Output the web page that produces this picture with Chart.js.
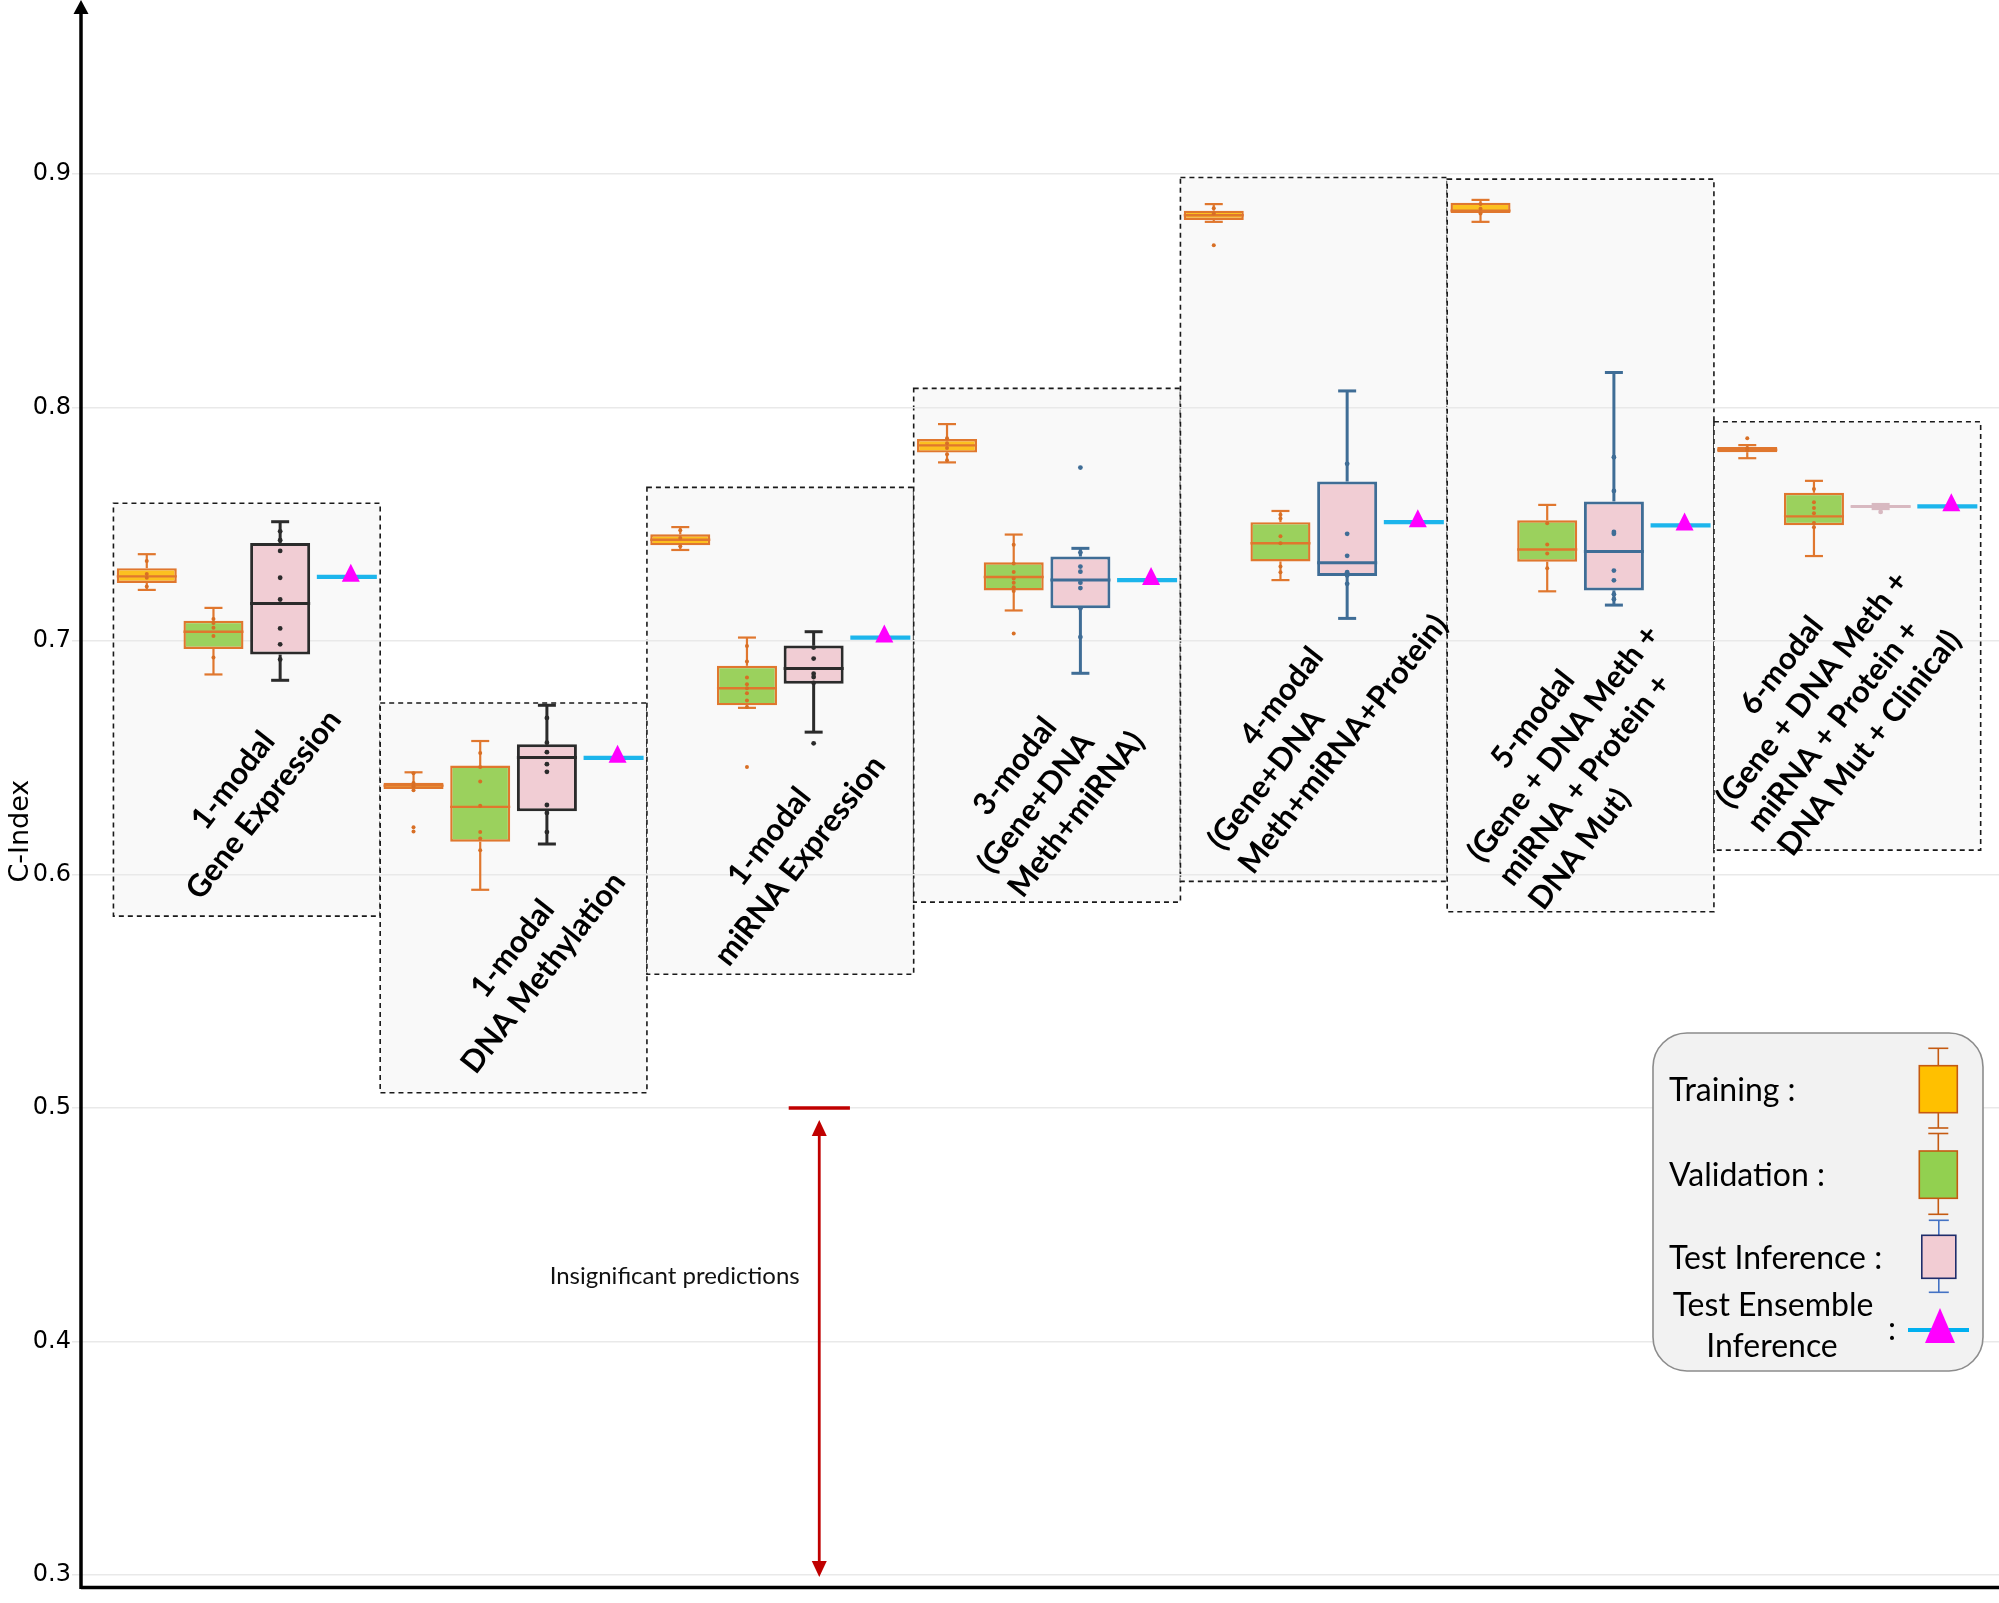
<!DOCTYPE html>
<html>
<head>
<meta charset="utf-8">
<script src="https://cdn.jsdelivr.net/npm/chart.js@4.4.1/dist/chart.umd.min.js"></script>
<style>
  html, body { margin: 0; padding: 0; background: #fff; overflow: hidden; }
  canvas { display: block; }
</style>
</head>
<body>
<canvas id="grafico" width="1999" height="1603"></canvas>
<script>
// grupos (uma caixa tracejada por modelo)
const groupNames = [
    ['1-modal', 'Gene Expression'],
    ['1-modal', 'DNA Methylation'],
    ['1-modal', 'miRNA Expression'],
    ['3-modal', '(Gene+DNA', 'Meth+miRNA)'],
    ['4-modal', '(Gene+DNA', 'Meth+miRNA+Protein)'],
    ['5-modal', '(Gene + DNA Meth +', 'miRNA + Protein +', 'DNA Mut)'],
    ['6-modal', '(Gene + DNA Meth +', 'miRNA + Protein +', 'DNA Mut + Clinical)'],
];

// [whisker baixo, Q1, mediana, Q3, whisker alto]
const trainingStats = [
    [0.7218, 0.7248, 0.7276, 0.7311, 0.7371],
    [0.6365, 0.6365, 0.6380, 0.6392, 0.6437],
    [0.7389, 0.7409, 0.7433, 0.7456, 0.7487],
    [0.7764, 0.7806, 0.7837, 0.7864, 0.7928],
    [0.8794, 0.8802, 0.8822, 0.8842, 0.8870],
    [0.8794, 0.8832, 0.8842, 0.8876, 0.8888],
    [0.7782, 0.7807, 0.7818, 0.7830, 0.7838],
];
const trainingPoints = [
    [0.7342, 0.7286, 0.7270, 0.7233],
    [0.6433, 0.6391, 0.6377, 0.6360, 0.6202, 0.6184],
    [0.7473, 0.7440, 0.7405],
    [0.7867, 0.7846, 0.7826, 0.7799, 0.7773],
    [0.8852, 0.8830, 0.8694],
    [0.8870, 0.8850, 0.8830],
    [0.7867, 0.7825, 0.7815],
];
const validationStats = [
    [0.6856, 0.6965, 0.7039, 0.7086, 0.7141],
    [0.5934, 0.6140, 0.6289, 0.6466, 0.6571],
    [0.6713, 0.6724, 0.6797, 0.6893, 0.7014],
    [0.7130, 0.7216, 0.7273, 0.7336, 0.7455],
    [0.7260, 0.7340, 0.7418, 0.7508, 0.7556],
    [0.7212, 0.7339, 0.7391, 0.7516, 0.7582],
    [0.7363, 0.7495, 0.7533, 0.7634, 0.7685],
];
const validationPoints = [
    [0.7093, 0.7076, 0.7056, 0.7021, 0.6929],
    [0.6520, 0.6460, 0.6398, 0.6294, 0.6181, 0.6154, 0.6103],
    [0.6978, 0.6911, 0.6843, 0.6814, 0.6797, 0.6775, 0.6745, 0.6717, 0.6460],
    [0.7411, 0.7331, 0.7295, 0.7267, 0.7249, 0.7229, 0.7213, 0.7031],
    [0.7540, 0.7524, 0.7448, 0.7418, 0.7318, 0.7294],
    [0.7503, 0.7412, 0.7374, 0.7311],
    [0.7650, 0.7593, 0.7569, 0.7546, 0.7505, 0.7486],
];
const testStats = [
    [0.6831, 0.6941, 0.7160, 0.7419, 0.7510],
    [0.6130, 0.6270, 0.6500, 0.6557, 0.6724],
    [0.6609, 0.6816, 0.6882, 0.6980, 0.7039],
    [0.6861, 0.7139, 0.7260, 0.7361, 0.7396],
    [0.7096, 0.7278, 0.7334, 0.7682, 0.8070],
    [0.7153, 0.7216, 0.7382, 0.7597, 0.8149],
    [0.7566, 0.7572, 0.7575, 0.7578, 0.7584],
];
const testPoints = [
    [0.7469, 0.7431, 0.7385, 0.7270, 0.7177, 0.7053, 0.6985, 0.6920],
    [0.6670, 0.6564, 0.6523, 0.6472, 0.6439, 0.6297, 0.6263, 0.6181],
    [0.6971, 0.6924, 0.6859, 0.6845, 0.6820, 0.6561],
    [0.7742, 0.7378, 0.7318, 0.7296, 0.7249, 0.7226, 0.7139, 0.7016],
    [0.7758, 0.7458, 0.7364, 0.7294, 0.7280, 0.7244],
    [0.7786, 0.7642, 0.7466, 0.7458, 0.7301, 0.7259, 0.7199, 0.7178],
    [0.7552],
];
const ensembleValues = [0.7274, 0.6499, 0.7014, 0.7260, 0.7508, 0.7494, 0.7576];

// limites das caixas tracejadas
const groupTop = [0.7589, 0.6734, 0.7657, 0.8081, 0.8984, 0.8977, 0.7938];
const groupBottom = [0.5821, 0.5065, 0.5572, 0.5881, 0.5970, 0.5840, 0.6104];

const yTicks = [0.3, 0.4, 0.5, 0.6, 0.7, 0.8, 0.9];
const insignificantLevel = 0.5;
const chanceLevel = 0.3;

// posicao dos textos (centro do bloco: [x do grupo, valor C-Index])
const labelPos = [[1.006, 0.635], [2.054, 0.563], [3.016, 0.611], [3.995, 0.636],
    [4.995, 0.666], [5.994, 0.651], [6.927, 0.674]];

const testStroke = ['#2b2b2b', '#2b2b2b', '#2b2b2b', '#3f6d96', '#3f6d96', '#3f6d96', '#d8b9c1'];
const orange = '#e0772e';
const ensembleHalf = 0.0009;

const toRad = (deg) => deg * Math.PI / 180;

const boxData = (stats) => stats.map((s, i) => ({ x: i + 1, y: [s[1], s[3]] }));

const linha = (ctx, x1, y1, x2, y2) => {
    ctx.beginPath();
    ctx.moveTo(x1, y1);
    ctx.lineTo(x2, y2);
    ctx.stroke();
};

const caixasSeries = [
    { stats: trainingStats, points: trainingPoints, stroke: () => orange, dot: '#d86f25', r: 2 },
    { stats: validationStats, points: validationPoints, stroke: () => orange, dot: '#d86f25', r: 2 },
    { stats: testStats, points: testPoints, stroke: (i) => testStroke[i], dot: null, r: 2.4 },
];

const desenhaGrupos = {
    id: 'grupos',
    beforeDraw(chart) {
        const { ctx, scales: { x, y } } = chart;
        ctx.save();
        groupTop.forEach((top, i) => {
            const left = x.getPixelForValue(i + 0.5);
            const right = x.getPixelForValue(i + 1.5);
            const t = y.getPixelForValue(top);
            const b = y.getPixelForValue(groupBottom[i]);
            ctx.fillStyle = '#f9f9f9';
            ctx.fillRect(left, t, right - left, b - t);
            ctx.setLineDash([5, 4]);
            ctx.lineWidth = 1.6;
            ctx.strokeStyle = '#1a1a1a';
            ctx.strokeRect(left, t, right - left, b - t);
        });
        ctx.restore();
    }
};

const desenhaCaixas = {
    id: 'caixas',
    beforeDatasetsDraw(chart) {
        // bigodes atras das caixas
        const { ctx, scales: { y } } = chart;
        ctx.save();
        caixasSeries.forEach((serie, d) => {
            chart.getDatasetMeta(d).data.forEach((bar, i) => {
                const [lo, q1, , q3, hi] = serie.stats[i];
                const cap = bar.width * 0.3;
                ctx.strokeStyle = serie.stroke(i);
                ctx.lineWidth = d === 2 ? 3 : 2.2;
                linha(ctx, bar.x, y.getPixelForValue(q3), bar.x, y.getPixelForValue(hi));
                linha(ctx, bar.x, y.getPixelForValue(q1), bar.x, y.getPixelForValue(lo));
                if (hi > q3) linha(ctx, bar.x - cap / 2, y.getPixelForValue(hi), bar.x + cap / 2, y.getPixelForValue(hi));
                if (lo < q1) linha(ctx, bar.x - cap / 2, y.getPixelForValue(lo), bar.x + cap / 2, y.getPixelForValue(lo));
            });
        });
        ctx.restore();
    },
    afterDatasetsDraw(chart) {
        const { ctx, scales: { y } } = chart;
        ctx.save();
        caixasSeries.forEach((serie, d) => {
            chart.getDatasetMeta(d).data.forEach((bar, i) => {
                const med = y.getPixelForValue(serie.stats[i][2]);
                ctx.strokeStyle = serie.stroke(i);
                ctx.lineWidth = d === 2 ? 3 : 2.4;
                linha(ctx, bar.x - bar.width / 2, med, bar.x + bar.width / 2, med);
                ctx.fillStyle = serie.dot || serie.stroke(i);
                serie.points[i].forEach((v) => {
                    ctx.beginPath();
                    ctx.arc(bar.x, y.getPixelForValue(v), serie.r, 0, Math.PI * 2);
                    ctx.fill();
                });
            });
        });
        // triangulos do ensemble
        chart.getDatasetMeta(3).data.forEach((bar, i) => {
            const cy = y.getPixelForValue(ensembleValues[i]);
            const cx = bar.x + 4;
            ctx.fillStyle = '#ff00ff';
            ctx.beginPath();
            ctx.moveTo(cx, cy - 13);
            ctx.lineTo(cx + 9, cy + 5);
            ctx.lineTo(cx - 9, cy + 5);
            ctx.closePath();
            ctx.fill();
        });
        ctx.restore();
    }
};

const legendaIcone = (ctx, cx, top, bottom, capTop, capBottom, fill, stroke, whisker, w) => {
    ctx.strokeStyle = whisker;
    ctx.lineWidth = 1.6;
    linha(ctx, cx, capTop, cx, top);
    linha(ctx, cx, bottom, cx, capBottom);
    linha(ctx, cx - 10, capTop, cx + 10, capTop);
    linha(ctx, cx - 10, capBottom, cx + 10, capBottom);
    ctx.fillStyle = fill;
    ctx.fillRect(cx - w / 2, top, w, bottom - top);
    ctx.strokeStyle = stroke;
    ctx.strokeRect(cx - w / 2, top, w, bottom - top);
};

const desenhaExtras = {
    id: 'extras',
    afterDraw(chart) {
        const { ctx, chartArea, scales: { x, y } } = chart;
        ctx.save();

        // eixos
        ctx.strokeStyle = '#000';
        ctx.lineWidth = 3.5;
        linha(ctx, chartArea.left, chartArea.bottom, chart.width, chartArea.bottom);
        linha(ctx, chartArea.left, chartArea.bottom + 1.5, chartArea.left, 10);
        ctx.fillStyle = '#000';
        ctx.beginPath();
        ctx.moveTo(chartArea.left, 0);
        ctx.lineTo(chartArea.left + 7.5, 14);
        ctx.lineTo(chartArea.left - 7.5, 14);
        ctx.closePath();
        ctx.fill();

        // titulo do eixo y
        ctx.save();
        ctx.translate(21, y.getPixelForValue(0.6185));
        ctx.rotate(-Math.PI / 2);
        ctx.font = '27px "DejaVu Sans"';
        ctx.textAlign = 'center';
        ctx.textBaseline = 'middle';
        ctx.fillText('C-Index', 0, 0);
        ctx.restore();

        // nomes dos grupos
        groupNames.forEach((lines, i) => {
            const [ux, vy] = labelPos[i];
            ctx.save();
            ctx.translate(x.getPixelForValue(ux), y.getPixelForValue(vy));
            ctx.rotate(toRad(-52));
            ctx.font = 'bold 31px Lato';
            ctx.fillStyle = '#000';
            ctx.textBaseline = 'middle';
            const w = Math.max(...lines.map((l) => ctx.measureText(l).width));
            const lh = 39;
            lines.forEach((l, k) => {
                const ly = (k - (lines.length - 1) / 2) * lh;
                if (k === 0) {
                    ctx.textAlign = 'center';
                    ctx.fillText(l, 0, ly);
                } else {
                    ctx.textAlign = 'left';
                    ctx.fillText(l, -w / 2, ly);
                }
            });
            ctx.restore();
        });

        // seta vermelha: predicoes insignificantes
        const ax = x.getPixelForValue(3.146);
        const yTop = y.getPixelForValue(insignificantLevel);
        const yBot = y.getPixelForValue(chanceLevel);
        ctx.strokeStyle = '#c00000';
        ctx.fillStyle = '#c00000';
        ctx.lineWidth = 3.5;
        linha(ctx, x.getPixelForValue(3.0315), yTop, x.getPixelForValue(3.261), yTop);
        ctx.lineWidth = 2.8;
        linha(ctx, ax, yTop + 20, ax, yBot - 6);
        ctx.beginPath();
        ctx.moveTo(ax, yTop + 12);
        ctx.lineTo(ax + 7.5, yTop + 28);
        ctx.lineTo(ax - 7.5, yTop + 28);
        ctx.closePath();
        ctx.fill();
        ctx.beginPath();
        ctx.moveTo(ax, yBot + 2);
        ctx.lineTo(ax + 7.5, yBot - 14);
        ctx.lineTo(ax - 7.5, yBot - 14);
        ctx.closePath();
        ctx.fill();
        ctx.fillStyle = '#111';
        ctx.font = '24px Lato';
        ctx.textAlign = 'center';
        ctx.textBaseline = 'middle';
        ctx.fillText('Insignificant predictions', x.getPixelForValue(2.604), y.getPixelForValue(0.428));

        // legenda
        const lx = 1653, ly = 1033, lw = 330, lhh = 338, r = 34;
        ctx.beginPath();
        ctx.moveTo(lx + r, ly);
        ctx.arcTo(lx + lw, ly, lx + lw, ly + lhh, r);
        ctx.arcTo(lx + lw, ly + lhh, lx, ly + lhh, r);
        ctx.arcTo(lx, ly + lhh, lx, ly, r);
        ctx.arcTo(lx, ly, lx + lw, ly, r);
        ctx.closePath();
        ctx.fillStyle = '#f2f2f2';
        ctx.fill();
        ctx.strokeStyle = '#8c8c8c';
        ctx.lineWidth = 1.6;
        ctx.stroke();

        ctx.fillStyle = '#000';
        ctx.font = '32px Lato';
        ctx.textAlign = 'left';
        ctx.textBaseline = 'alphabetic';
        ctx.fillText('Training :', 1669, 1101);
        ctx.fillText('Validation :', 1669, 1186);
        ctx.fillText('Test Inference :', 1669, 1269);
        ctx.textAlign = 'center';
        ctx.fillText('Test Ensemble', 1773, 1316);
        ctx.fillText('Inference', 1772, 1357);
        ctx.fillText(':', 1892, 1340);

        legendaIcone(ctx, 1938.3, 1065.7, 1112.7, 1048.3, 1128, '#ffc000', '#c55a11', '#c55a11', 38);
        legendaIcone(ctx, 1938.3, 1151, 1198.3, 1133.5, 1214.3, '#92d050', '#c55a11', '#c55a11', 38);
        legendaIcone(ctx, 1938.8, 1235.3, 1278.3, 1220.3, 1292.3, '#f2ccd3', '#1f2d6b', '#4472c4', 34);
        ctx.strokeStyle = '#00b0f0';
        ctx.lineWidth = 4;
        linha(ctx, 1908, 1330, 1969, 1330);
        ctx.fillStyle = '#ff00ff';
        ctx.beginPath();
        ctx.moveTo(1940, 1308);
        ctx.lineTo(1955, 1343);
        ctx.lineTo(1925, 1343);
        ctx.closePath();
        ctx.fill();

        ctx.restore();
    }
};

const ctx = document.getElementById('grafico').getContext('2d');
const myChart = new Chart(ctx, {
    type: 'bar',
    data: {
        datasets: [
            { label: 'Training', data: boxData(trainingStats), backgroundColor: '#fcc01f', borderColor: orange, borderWidth: 2.4 },
            { label: 'Validation', data: boxData(validationStats), backgroundColor: '#9bd15d', borderColor: orange, borderWidth: 2.4 },
            { label: 'Test Inference', data: boxData(testStats), backgroundColor: '#f1cdd4', borderColor: testStroke, borderWidth: 3 },
            {
                label: 'Test Ensemble Inference',
                data: ensembleValues.map((v, i) => ({ x: i + 1, y: [v - ensembleHalf, v + ensembleHalf] })),
                backgroundColor: '#1cb5ec', borderWidth: 0,
            },
        ],
    },
    options: {
        responsive: false,
        devicePixelRatio: 1,
        animation: false,
        layout: { padding: { top: 14, bottom: 7, left: 0, right: 0 } },
        datasets: { bar: { barPercentage: 0.9, categoryPercentage: 1.0, borderSkipped: false, grouped: true } },
        plugins: { legend: { display: false }, tooltip: { enabled: false } },
        scales: {
            x: {
                type: 'linear', min: 0.3784, max: 7.5687, offset: false, display: false,
                // um tick por grupo, para a largura das barras usar o espaco inteiro do grupo
                afterBuildTicks: (axis) => { axis.ticks = groupNames.map((g, i) => ({ value: i + 1 })); },
            },
            y: {
                min: 0.2946,
                max: 0.9678,
                afterFit: (scale) => { scale.width = 81; },
                afterBuildTicks: (axis) => { axis.ticks = yTicks.map((v) => ({ value: v })); },
                ticks: { color: '#000', padding: 1, font: { family: 'DejaVu Sans', size: 24 }, callback: (v) => v.toFixed(1) },
                grid: { color: '#e9e9e9', lineWidth: 1.5, tickLength: 9 },
                border: { display: false },
            },
        },
    },
    plugins: [desenhaGrupos, desenhaCaixas, desenhaExtras],
});
</script>
</body>
</html>
